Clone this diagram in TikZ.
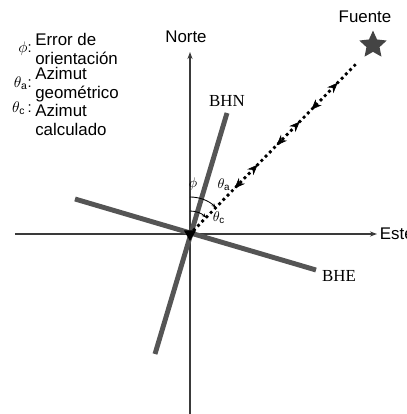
\documentclass[tikz,border=0pt]{standalone}
\usepackage{fontspec}
\setmainfont{Liberation Sans}
\newfontfamily\timesfont{Liberation Serif}
\usetikzlibrary{arrows.meta, positioning, shapes.geometric, decorations.markings}
\definecolor{axisgray}{HTML}{3A3A3A}
\definecolor{sensorgray}{HTML}{555555}
\definecolor{stargray}{HTML}{444444}

\begin{document}
\begin{tikzpicture}[x=0.025cm,y=0.025cm,>={Stealth[length=5pt,width=3.6pt]},
      raytip/.tip={Stealth[length=7.5pt,width=6pt]},
      every node/.style={font=\fontsize{12}{13.5}\selectfont},
      axis/.style={draw=axisgray,line width=0.8pt,->},
      sensor/.style={draw=sensorgray,line width=3.5pt},
      sensorlabel/.style={font=\timesfont\fontsize{12}{14}\selectfont},
      ray/.style={line width=2.8pt,dash pattern=on 0pt off 4.3pt,line cap=round,
        decoration={markings,
          mark=at position 0.27 with {\arrowreversed[line width=0.4pt,solid]{raytip}},
          mark=at position 0.41 with {\arrow[line width=0.4pt,solid]{raytip}},
          mark=at position 0.525 with {\arrowreversed[line width=0.4pt,solid]{raytip}},
          mark=at position 0.665 with {\arrow[line width=0.4pt,solid]{raytip}},
          mark=at position 0.735 with {\arrowreversed[line width=0.4pt,solid]{raytip}},
          mark=at position 0.895 with {\arrow[line width=0.4pt,solid]{raytip}}},
        postaction=decorate},
      anglearc/.style={draw=black,line width=0.6pt,->,>={Stealth[length=3pt,width=2.5pt]}},
      anglelabel/.style={font=\fontsize{10}{11}\selectfont,inner sep=0pt},
      legtext/.style={align=left,inner sep=0pt,anchor=west},
      legsym/.style={font=\fontsize{10.5}{12}\selectfont,inner sep=0pt,anchor=east}]
      \useasboundingbox (-190,-180) rectangle (217,234);
      % axes
      \coordinate (O) at (0,0);
      \coordinate (S) at (0,-180);
      \coordinate (N) at (0,182);
      \coordinate (W) at (-175,0);
      \coordinate (E) at (187,0);
      \draw[axis] (S) -- (N);
      \draw[axis] (W) -- (E);
      \node[above=0.12cm of N,xshift=-0.1cm] (norte) {Norte};
      \node[right=-0.05cm of E] (este) {Este};
      % sensor components
      \coordinate (bhnS) at (-35,-120);
      \coordinate (bhnN) at (37,121);
      \coordinate (bheW) at (-115,35);
      \coordinate (bheE) at (126,-36);
      \draw[sensor] (bhnS) -- (bhnN);
      \draw[sensor] (bheW) -- (bheE);
      \node[sensorlabel,above=0.04cm of bhnN] (bhn) {BHN};
      \node[sensorlabel,right=0.03cm of bheE,yshift=-0.15cm] (bhe) {BHE};
      \node[regular polygon,regular polygon sides=3,shape border rotate=180,
        fill=black,inner sep=0pt,minimum size=0.35cm] (sta) at (O) {};
      % source and ray
      \node[star,star points=5,star point ratio=2.1,fill=stargray,inner sep=0pt,
        minimum size=0.72cm] (fuente) at (183,189) {};
      \node[above=0.06cm of fuente,xshift=-0.2cm] (fuentelabel) {Fuente};
      \coordinate (rayend) at (165,169);
      \draw[ray] (O) -- (rayend);
      % angles
      \draw[anglearc] ([shift={(90:37)}]O) arc[start angle=90,end angle=46,radius=37];
      \draw[anglearc] ([shift={(90:23)}]O) arc[start angle=90,end angle=46,radius=23];
      \node[anglelabel] (phi) at (3,50) {$\phi$};
      \node[anglelabel] (thetaa) at (34,49) {$\theta_{\mathrm{a}}$};
      \node[anglelabel] (thetac) at (29,16) {$\theta_{\mathrm{c}}$};
      % legend
      \node[legsym] (legphi) at (-158,185) {$\phi$:};
      \node[legtext] (legphitext) at (-155,185) {Error de\\orientación};
      \node[legsym] (lega) at (-158,151) {$\theta_{\mathrm{a}}$:};
      \node[legtext] (legatext) at (-155,149) {Azimut\\geométrico};
      \node[legsym] (legc) at (-158,126) {$\theta_{\mathrm{c}}$\,:};
      \node[legtext] (legctext) at (-155,114.5) {Azimut\\calculado};
\end{tikzpicture}
\end{document}
